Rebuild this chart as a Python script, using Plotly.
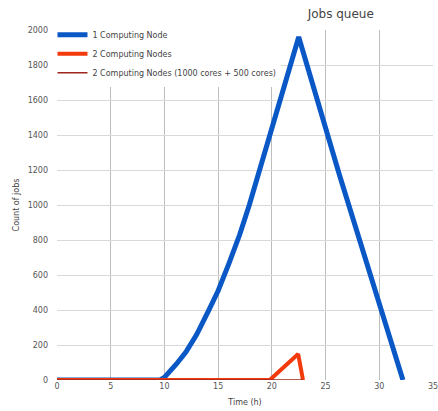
import plotly.graph_objects as go

# Data
time_one = [0, 9.6, 10.0, 10.5, 11.1, 12.0, 13.0, 14.1, 15.0, 16.0, 17.0, 17.9, 19.6, 22.5,
            26.3, 28.2, 30.1, 32.2]
jobs_one = [0, 0, 15, 45, 90, 160, 260, 395, 510, 665, 830, 1000, 1360, 1960,
            1170, 800, 410, 0]

time_two = [0, 19.8, 22.45, 22.9]
jobs_two = [0, 0, 148, 0]

time_three = [0, 22.9]
jobs_three = [0, 0]

x_ticks = [0, 5, 10, 15, 20, 25, 30, 35]
y_ticks = list(range(0, 2001, 200))

font = "DejaVu Sans, Verdana, sans-serif"

fig = go.Figure()
fig.add_trace(go.Scatter(x=time_one, y=jobs_one, mode="lines", name="1 Computing Node",
                         line=dict(color="#0a57c6", width=5)))
fig.add_trace(go.Scatter(x=time_two, y=jobs_two, mode="lines", name="2 Computing Nodes",
                         line=dict(color="#f23a0c", width=4)))
fig.add_trace(go.Scatter(x=time_three, y=jobs_three, mode="lines",
                         name="2 Computing Nodes (1000 cores + 500 cores)",
                         line=dict(color="#a0251c", width=1.5)))

fig.update_layout(
    width=438, height=411,
    margin=dict(l=57, r=5, t=30, b=31),
    paper_bgcolor="white", plot_bgcolor="white",
    font=dict(family=font, size=8, color="#555"),
    title=dict(text="Jobs queue", x=0.778, xanchor="center", y=0.966, yanchor="middle",
               font=dict(family=font, size=12, color="#444")),
    showlegend=True,
    legend=dict(x=-0.012, y=1.028, xanchor="left", yanchor="top", bgcolor="white",
                font=dict(family=font, size=8, color="#444"),
                tracegroupgap=0, itemwidth=30),
    xaxis=dict(range=[0, 35], tickvals=x_ticks, showgrid=True, gridcolor="#bdbdbd",
               zeroline=False, showline=False, ticks="", automargin=False,
               ticklabeloverflow="allow",
               title=dict(text="Time (h)", font=dict(family=font, size=8, color="#444"), standoff=9)),
    yaxis=dict(range=[0, 2000], tickvals=y_ticks, showgrid=True, gridcolor="#d9d9d9",
               zeroline=False, showline=False, ticks="", automargin=False, ticklabelstandoff=8,
               title=dict(text="Count of jobs", font=dict(family=font, size=8, color="#444"), standoff=6)),
)

fig.write_html(
    "out.html",
    config={"displayModeBar": False},
    post_script="document.body.style.margin='0';document.body.style.overflow='hidden';",
)
